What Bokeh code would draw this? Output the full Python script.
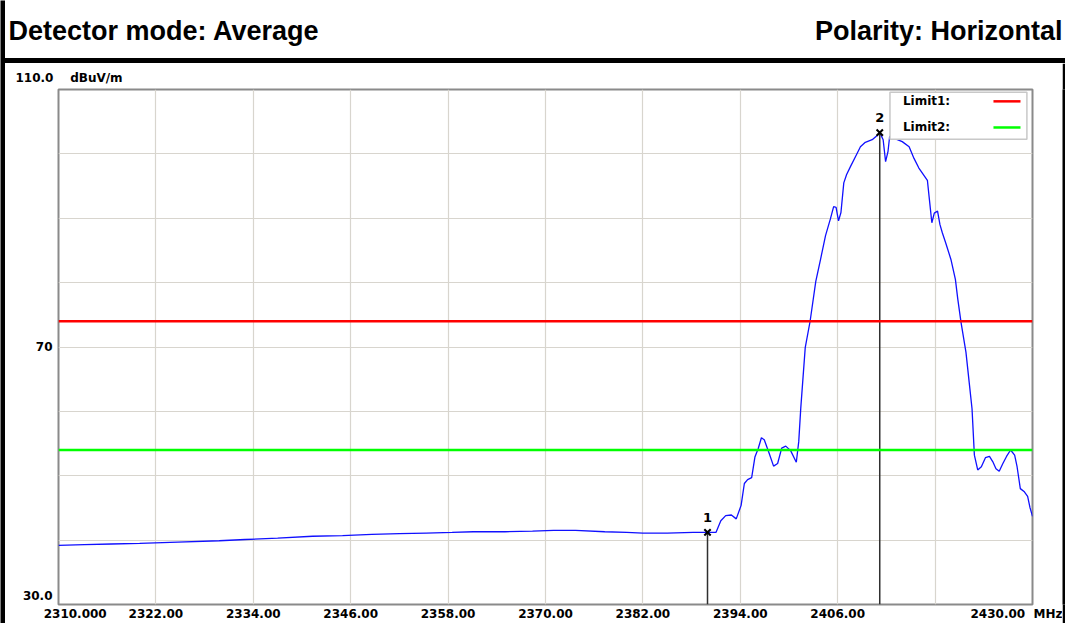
from bokeh.plotting import figure
from bokeh.models import Range1d, FixedTicker, Span, Label, ColumnDataSource, Div, Title
from bokeh.layouts import column, row
from bokeh.embed import file_html
from bokeh.resources import INLINE
from bokeh.core.properties import value

# ---------------- data ----------------
X_MIN, X_MAX = 2310.0, 2430.0
Y_MIN, Y_MAX = 30.0, 110.0
X_TICKS = [2310, 2322, 2334, 2346, 2358, 2370, 2382, 2394, 2406, 2418, 2430]
X_TICK_LABELS = ["2310.000", "2322.00", "2334.00", "2346.00", "2358.00", "2370.00",
                 "2382.00", "2394.00", "2406.00", "", "2430.00"]
X_UNIT = "MHz"
Y_GRID = [30, 40, 50, 60, 70, 80, 90, 100, 110]
Y_TICKS = [30, 70]
Y_TICK_LABELS = ["30.0", "70"]
Y_TOP_LABEL = "110.0"
Y_UNIT = "dBuV/m"

FREQ = [2310.0, 2313.2, 2316.5, 2320.0, 2324.7, 2329.8, 2333.0, 2337.0, 2341.3,
        2345.0, 2348.6, 2352.0, 2355.3, 2358.5, 2361.1, 2365.0, 2368.4, 2371.0,
        2373.7, 2377.3, 2380.0, 2382.0, 2385.0, 2388.2, 2389.96, 2391.0, 2391.6,
        2392.2, 2392.9, 2393.5, 2394.1, 2394.5, 2394.9, 2395.4, 2395.8, 2396.2,
        2396.6, 2396.95, 2397.5, 2398.1, 2398.6, 2399.1, 2399.6, 2400.2, 2400.9,
        2401.2, 2401.45, 2402.0, 2402.6, 2403.3, 2403.9, 2404.5, 2405.1, 2405.5,
        2405.8, 2406.1, 2406.4, 2406.75, 2407.1, 2407.6, 2408.2, 2408.8, 2409.4,
        2410.25, 2410.9, 2411.18, 2411.6, 2411.9, 2412.2, 2412.4, 2412.7, 2413.2,
        2413.95, 2414.8, 2415.4, 2416.0, 2417.05, 2417.3, 2417.6, 2417.9, 2418.3,
        2418.6, 2418.9, 2419.3, 2419.95, 2420.5, 2420.8, 2421.2, 2421.8, 2422.2,
        2422.55, 2422.84, 2423.25, 2423.7, 2424.2, 2424.7, 2425.1, 2425.5, 2425.9,
        2426.35, 2426.8, 2427.3, 2427.8, 2428.1, 2428.5, 2429.0, 2429.4, 2429.7,
        2430.0]
LEVEL = [39.2, 39.3, 39.4, 39.5, 39.7, 39.9, 40.1, 40.3, 40.6,
         40.7, 40.9, 41.0, 41.1, 41.2, 41.3, 41.3, 41.4, 41.5,
         41.5, 41.3, 41.2, 41.1, 41.1, 41.2, 41.2, 41.2, 43.0,
         43.8, 43.9, 43.3, 45.4, 48.8, 49.4, 49.7, 52.9, 54.2,
         55.9, 55.6, 53.7, 51.5, 51.9, 54.3, 54.6, 53.9, 52.1,
         55.3, 60.5, 69.9, 74.0, 80.2, 83.7, 87.3, 89.9, 91.8,
         91.7, 89.6, 90.9, 95.5, 96.8, 98.1, 99.6, 101.1, 101.8,
         102.2, 102.9, 103.3, 102.2, 98.8, 100.4, 102.7, 102.9, 102.3,
         101.9, 101.1, 99.3, 97.8, 95.9, 92.9, 89.3, 90.8, 91.1,
         89.0, 87.7, 86.2, 83.6, 80.5, 77.4, 73.8, 69.2, 64.5,
         60.4, 53.2, 50.9, 51.4, 52.8, 53.0, 52.2, 51.1, 50.7,
         51.9, 53.0, 54.0, 53.2, 51.4, 48.0, 47.5, 46.8, 45.0,
         43.7]

LIMIT1 = 74.0
LIMIT2 = 54.0

MARKER_FREQ = [2389.96, 2411.18]
MARKER_LEVEL = [41.2, 103.3]
MARKER_ID = ["1", "2"]

HEADER_LEFT = "Detector mode: Average"
HEADER_RIGHT = "Polarity: Horizontal"
LEGEND_LABELS = ["Limit1:", "Limit2:"]
LEGEND_COLORS = ["#ff0000", "#00ff00"]

TICK_FONT = "DejaVu Sans"
BLACK = "#000000"
NB = "\u00a0"


def vbar(w, h):
    f = figure(width=w, height=h, x_range=Range1d(0, 1), y_range=Range1d(0, 1),
               min_border=0, x_axis_location=None, y_axis_location=None,
               toolbar_location=None, output_backend="svg")
    f.grid.visible = False
    f.outline_line_color = None
    f.background_fill_color = BLACK
    f.border_fill_color = BLACK
    return f


def hbar(w, h):
    return Div(text="", width=w, height=h, margin=0,
               styles={"background-color": "black"})


# ---------------- header ----------------
HW, HH = 1060, 58
hdr = figure(width=HW, height=HH, x_range=Range1d(0, HW), y_range=Range1d(0, HH),
             min_border=0, x_axis_location=None, y_axis_location=None,
             toolbar_location=None, output_backend="svg")
hdr.grid.visible = False
hdr.outline_line_color = None
hdr.background_fill_color = "white"
hdr.border_fill_color = "white"
hdr.add_layout(Label(x=3, y=HH - 30, text=HEADER_LEFT, text_font="Liberation Sans",
                     text_font_style="bold", text_font_size="27px",
                     text_baseline="middle", text_align="left", text_color=BLACK))
hdr.add_layout(Label(x=HW - 3, y=HH - 30, text=HEADER_RIGHT, text_font="Liberation Sans",
                     text_font_style="bold", text_font_size="27px",
                     text_baseline="middle", text_align="right", text_color=BLACK))

# ---------------- main chart ----------------
p = figure(width=1057, height=560, x_range=Range1d(X_MIN, X_MAX),
           y_range=Range1d(Y_MIN, Y_MAX),
           min_border_left=53, min_border_right=30, min_border_top=26,
           min_border_bottom=12, toolbar_location=None, output_backend="svg",
           title=None)
p.background_fill_color = "white"
p.border_fill_color = "white"
p.outline_line_color = "#8a8a8a"
p.outline_line_width = 2

# top-left axis caption: "110.0    dBuV/m"
p.add_layout(Title(text=Y_TOP_LABEL + NB * 4 + Y_UNIT, align="left", offset=-43,
                   standoff=9, text_font=TICK_FONT, text_font_style="bold",
                   text_font_size="12px", text_color=BLACK), "above")

# x labels; the first is shifted right, the last carries the unit
xlab = list(X_TICK_LABELS)
xlab[0] = NB * 8 + xlab[0]
xlab[-1] = xlab[-1] + NB * 2 + X_UNIT
ylab = list(Y_TICK_LABELS)
ylab[0] = ylab[0] + "\n" + NB   # lift the bottom label above the frame edge
p.xaxis.ticker = FixedTicker(ticks=X_TICKS)
p.xaxis.major_label_overrides = {t: s for t, s in zip(X_TICKS, xlab)}
p.yaxis.ticker = FixedTicker(ticks=Y_TICKS)
p.yaxis.major_label_overrides = {t: s for t, s in zip(Y_TICKS, ylab)}
for ax in (p.xaxis, p.yaxis):
    ax.axis_label = None
    ax.axis_line_color = None
    ax.major_tick_line_color = None
    ax.minor_tick_line_color = None
    ax.major_tick_out = 0
    ax.major_tick_in = 0
    ax.major_label_text_font = TICK_FONT
    ax.major_label_text_font_style = "bold"
    ax.major_label_text_font_size = "12px"
    ax.major_label_text_color = BLACK
p.xaxis.major_label_standoff = 2
p.yaxis.major_label_standoff = 6

p.xgrid.ticker = FixedTicker(ticks=X_TICKS)
p.ygrid.ticker = FixedTicker(ticks=Y_GRID)
p.xgrid.grid_line_color = "#d8d5ce"
p.ygrid.grid_line_color = "#d8d5ce"
p.xgrid.grid_line_width = 1.2
p.ygrid.grid_line_width = 1.2

# limit lines
p.add_layout(Span(location=LIMIT1, dimension="width", line_color=LEGEND_COLORS[0], line_width=2.5))
p.add_layout(Span(location=LIMIT2, dimension="width", line_color=LEGEND_COLORS[1], line_width=2.5))

# trace
p.line(FREQ, LEVEL, line_color="#1010ff", line_width=1.3)

# markers
msrc = ColumnDataSource(dict(f=MARKER_FREQ, lvl=MARKER_LEVEL,
                             ymin=[Y_MIN] * len(MARKER_FREQ), id=MARKER_ID))
p.segment(x0="f", y0="ymin", x1="f", y1="lvl", source=msrc, line_color="#303030", line_width=1.5)
p.scatter(x="f", y="lvl", source=msrc, marker="x", size=9, line_width=2, line_color=BLACK)
p.text(x="f", y="lvl", text="id", source=msrc, y_offset=-15, text_align="center",
       text_baseline="middle", text_font=value(TICK_FONT), text_font_style="bold",
       text_font_size="13px", text_color=BLACK)

# legend box (label first, then line sample), drawn on top of the trace
box = p.quad(left=[2412.44], right=[2429.31], top=[109.59], bottom=[102.28],
             fill_color="white", line_color="#c8c8c8", line_width=1.5)
box.level = "overlay"
leg_y = [108.16, 104.1]
src_leg = ColumnDataSource(dict(x0=[2425.19, 2425.19], x1=[2428.52, 2428.52], y=leg_y, c=LEGEND_COLORS))
seg = p.segment(x0="x0", y0="y", x1="x1", y1="y", line_color="c", line_width=2.5, source=src_leg)
seg.level = "overlay"
for lab, yy in zip(LEGEND_LABELS, leg_y):
    p.add_layout(Label(x=2414.03, y=yy, text=lab, text_font=TICK_FONT, text_font_style="bold",
                       text_font_size="12px", text_baseline="middle", text_align="left",
                       text_color=BLACK, level="overlay"))

# ---------------- frame layout ----------------
layout = row(
    vbar(5, 623),
    column(
        hdr,
        hbar(1060, 5),
        row(p, vbar(3, 560)),
    ),
)

open("out.html", "w").write(file_html(layout, INLINE))
